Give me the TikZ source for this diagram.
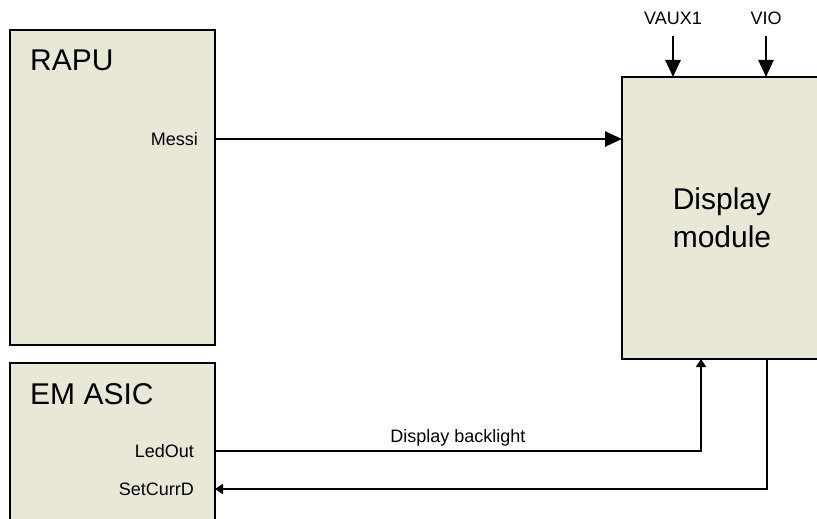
\documentclass[tikz,border=0pt]{standalone}
\usepackage{fontspec}
\setmainfont{Liberation Sans}
\usetikzlibrary{positioning,arrows.meta}

\definecolor{boxfill}{RGB}{233,231,214}

\tikzset{
  block/.style={draw, line width=2pt, fill=boxfill, anchor=north west, inner sep=0pt, outer sep=0pt},
  title/.style={font=\fontsize{30}{36}\selectfont, inner sep=0pt},
  port/.style={font=\fontsize{18}{22}\selectfont, inner sep=0pt},
  bus/.style={line width=2.6pt, -{Triangle[length=17pt,width=15pt]}},
  wire/.style={line width=1.8pt, -{Triangle[length=8pt,width=10pt]}},
}

\begin{document}
\begin{tikzpicture}[x=1pt,y=-1pt]
  \useasboundingbox (0,0) rectangle (817,519);
  \clip (0,0) rectangle (817,519);

  % blocks
  \node[block, minimum width=205pt, minimum height=315pt] (rapu) at (10,30) {};
  \node[block, minimum width=205pt, minimum height=200pt] (asic) at (10,363) {};
  \node[block, minimum width=200pt, minimum height=282pt, align=center,
        font=\fontsize{30}{38}\selectfont] (disp) at (622,77) {Display\\module};

  \node[title, below right=20pt and 20pt of rapu.north west] (rapu-name) {RAPU};
  \node[title, below right=20pt and 20pt of asic.north west] (asic-name) {EM ASIC};

  % pins
  \node[port, anchor=east] (messi) at (198,139) {Messi};
  \node[port, anchor=east] (ledout) at (194,451) {LedOut};
  \node[port, anchor=east] (setcurr) at (194,489) {SetCurrD};

  \coordinate (bl-in) at ([xshift=79pt]disp.south west);
  \coordinate (cd-out) at ([xshift=145pt]disp.south west);
  \coordinate (vaux) at ([xshift=51pt]disp.north west);
  \coordinate (vio) at ([xshift=144pt]disp.north west);
  \coordinate[above=41pt of vaux] (vaux-top);
  \coordinate[above=41pt of vio] (vio-top);

  \node[port, above=11pt of vaux-top] (vaux-name) {VAUX1};
  \node[port, above=11pt of vio-top] (vio-name) {VIO};

  % signals
  \draw[bus] (rapu.east |- messi) -- (disp.west |- messi);
  \draw[bus] (vaux-top) -- (vaux);
  \draw[bus] (vio-top) -- (vio);
  \draw[wire] (asic.east |- ledout) -| node[port, above=4pt, pos=0.25] (bl-label) {Display backlight} (bl-in);
  \draw[wire] (cd-out) |- (asic.east |- setcurr);
\end{tikzpicture}
\end{document}
